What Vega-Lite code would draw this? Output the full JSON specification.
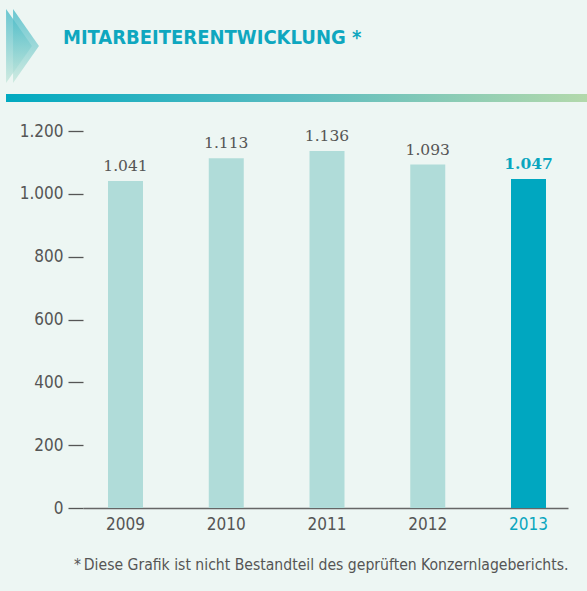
{
  "$schema": "https://vega.github.io/schema/vega-lite/v6.json",
  "width": 485,
  "height": 377,
  "autosize": {"type": "none"},
  "padding": {"left": 83, "top": 131, "right": 19, "bottom": 83},
  "background": "#edf6f3",
  "config": {
    "view": {"stroke": null},
    "locale": {"number": {"decimal": ",", "thousands": ".", "grouping": [3], "currency": ["", " €"]}}
  },
  "title": {
    "text": "MITARBEITERENTWICKLUNG *",
    "anchor": "start",
    "frame": "group",
    "dx": -20,
    "offset": -55,
    "baseline": "alphabetic",
    "font": "DejaVu Sans Condensed, Liberation Sans Narrow, sans-serif",
    "fontSize": 20,
    "fontWeight": 600,
    "color": "#0fa7bf"
  },
  "data": {
    "values": [
      {"year": "2009", "value": 1041},
      {"year": "2010", "value": 1113},
      {"year": "2011", "value": 1136},
      {"year": "2012", "value": 1093},
      {"year": "2013", "value": 1047}
    ]
  },
  "layer": [
    {
      "data": {"values": [{"deco": "band"}]},
      "mark": {
        "type": "rect",
        "fill": {
          "gradient": "linear",
          "x1": 0, "x2": 1, "y1": 0, "y2": 0,
          "stops": [
            {"offset": 0, "color": "#00a9c0"},
            {"offset": 0.5, "color": "#5bbcc0"},
            {"offset": 1, "color": "#b3d9ab"}
          ]
        }
      },
      "encoding": {
        "x": {"value": -77},
        "x2": {"value": 504},
        "y": {"value": -37},
        "y2": {"value": -29}
      }
    },
    {
      "data": {"values": [{"deco": "a", "dx": -64}, {"deco": "b", "dx": -57}]},
      "mark": {
        "type": "point",
        "filled": true,
        "shape": "M-0.35,-1L0.35,0L-0.35,1Z",
        "size": 5476,
        "opacity": 0.75,
        "strokeWidth": 0,
        "fill": {
          "gradient": "linear",
          "x1": 0, "x2": 0, "y1": 0, "y2": 1,
          "stops": [
            {"offset": 0, "color": "#3fb7c6"},
            {"offset": 1, "color": "#c4e6da"}
          ]
        }
      },
      "encoding": {
        "x": {"field": "dx", "type": "quantitative", "scale": null},
        "y": {"value": -85}
      }
    },
    {
      "mark": {"type": "bar"},
      "encoding": {
        "x": {
          "field": "year",
          "type": "nominal",
          "scale": {"paddingInner": 0.6526, "paddingOuter": 0.2333, "align": 0.532},
          "axis": {
            "title": "*\u2009Diese Grafik ist nicht Bestandteil des geprüften Konzernlageberichts.",
            "titleAnchor": "end",
            "titleFont": "DejaVu Sans Condensed, Liberation Sans Narrow, sans-serif",
            "titleFontSize": 15.6,
            "titleFontWeight": "normal",
            "titleColor": "#555555",
            "titlePadding": 25,
            "labelAngle": 0,
            "labelFont": "DejaVu Sans Condensed, Liberation Sans Narrow, sans-serif",
            "labelFontSize": 17,
            "labelColor": {"condition": {"test": "datum.value == '2013'", "value": "#0aa6bf"}, "value": "#555555"},
            "labelPadding": 8,
            "ticks": false,
            "domainColor": "#666666",
            "domainWidth": 1.5
          }
        },
        "y": {
          "field": "value",
          "type": "quantitative",
          "scale": {"domain": [0, 1200]},
          "axis": {
            "title": null,
            "values": [0, 200, 400, 600, 800, 1000, 1200],
            "format": ",d",
            "labelFont": "DejaVu Sans Condensed, Liberation Sans Narrow, sans-serif",
            "labelFontSize": 17,
            "labelColor": "#555555",
            "labelPadding": 5,
            "domain": false,
            "grid": false,
            "tickSize": 15,
            "tickColor": "#555555",
            "tickWidth": 1.3
          }
        },
        "color": {
          "condition": {"test": "datum.year == '2013'", "value": "#00a7c0"},
          "value": "#b0dcd9"
        }
      }
    },
    {
      "transform": [{"filter": "datum.year != '2013'"}],
      "mark": {
        "type": "text",
        "baseline": "alphabetic",
        "dy": -10,
        "font": "DejaVu Serif, Liberation Serif, serif",
        "fontSize": 15.5,
        "color": "#555555"
      },
      "encoding": {
        "x": {"field": "year", "type": "nominal"},
        "y": {"field": "value", "type": "quantitative"},
        "text": {"field": "value", "type": "quantitative", "format": ",d"}
      }
    },
    {
      "transform": [{"filter": "datum.year == '2013'"}],
      "mark": {
        "type": "text",
        "baseline": "alphabetic",
        "dy": -10,
        "font": "DejaVu Serif, Liberation Serif, serif",
        "fontSize": 15.5,
        "fontWeight": "bold",
        "color": "#0aa6bf"
      },
      "encoding": {
        "x": {"field": "year", "type": "nominal"},
        "y": {"field": "value", "type": "quantitative"},
        "text": {"field": "value", "type": "quantitative", "format": ",d"}
      }
    }
  ]
}
